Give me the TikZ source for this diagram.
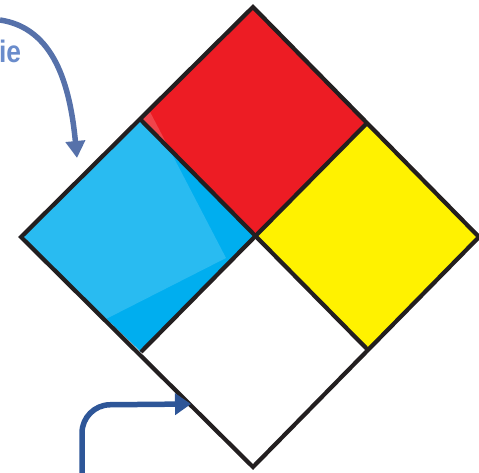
\documentclass[tikz,border=0pt]{standalone}
\usepackage{fontspec}
\setmainfont{Liberation Sans}
\usetikzlibrary{arrows.meta}
\definecolor{hzred}{HTML}{ED1C24}
\definecolor{hzyellow}{HTML}{FFF200}
\definecolor{hzblue}{HTML}{00AEEF}
\definecolor{hzborder}{HTML}{231F20}
\definecolor{arrowA}{HTML}{5671AA}
\definecolor{arrowB}{HTML}{2E5698}
\definecolor{labelblue}{HTML}{6A8CCB}
\tikzset{
  edgeline/.style={draw=hzborder, line width=4.2pt, line join=miter},
  pointer/.style={line width=5.5pt, -{Triangle[length=17pt,width=19pt]}},
}
\begin{document}
\begin{tikzpicture}[x=1pt,y=-1pt]
\useasboundingbox (0,0) rectangle (479,472);
% vertices
\coordinate (T) at (253,7);
\coordinate (L) at (21,237);
\coordinate (B) at (253,467);
\coordinate (R) at (479,237);
\coordinate (TL) at (141,120);
\coordinate (TR) at (368,122);
\coordinate (BL) at (141,352);
\coordinate (BR) at (368,350);
\coordinate (C) at (254,237);
% fills
\fill[hzred] (T) -- (TR) -- (C) -- (TL) -- cycle;
\fill[hzyellow] (TR) -- (R) -- (BR) -- (C) -- cycle;
\fill[hzblue] (TL) -- (C) -- (BL) -- (L) -- cycle;
\fill[white] (C) -- (BR) -- (B) -- (BL) -- cycle;
% highlight
\begin{scope}
\clip (TL) -- (C) -- (BL) -- (L) -- cycle;
\fill[white, opacity=0.16] (135,95) -- (148,108) -- (226,258) -- (104,320) -- (0,340) -- (0,95) -- cycle;
\end{scope}
\begin{scope}
\clip (T) -- (TR) -- (C) -- (TL) -- cycle;
\fill[white, opacity=0.18] (135,95) -- (148,108) -- (226,258) -- (104,320) -- (0,340) -- (0,95) -- cycle;
\end{scope}
% borders
\draw[edgeline] (T) -- (R) -- (B) -- (L) -- cycle;
\draw[edgeline] (TL) -- (BR);
\draw[edgeline] (TR) -- (BL);
% label
\node[anchor=west, inner sep=0pt, text=labelblue, font=\bfseries\fontsize{31}{31}\selectfont, xscale=0.85] (lab) at (-1,51) {ie};
% arrows
\coordinate (a1s) at (0,20);
\coordinate (a1e) at (77,158);
\draw[pointer, draw=arrowA] (a1s) .. controls (54,28) and (70,85) .. (a1e);
\coordinate (a2s) at (82,475);
\coordinate (a2e) at (191,404);
\draw[pointer, draw=arrowB, rounded corners=28pt, -{Triangle[length=16pt,width=21pt]}] (a2s) -- (82,405) -- (a2e);
\end{tikzpicture}
\end{document}
